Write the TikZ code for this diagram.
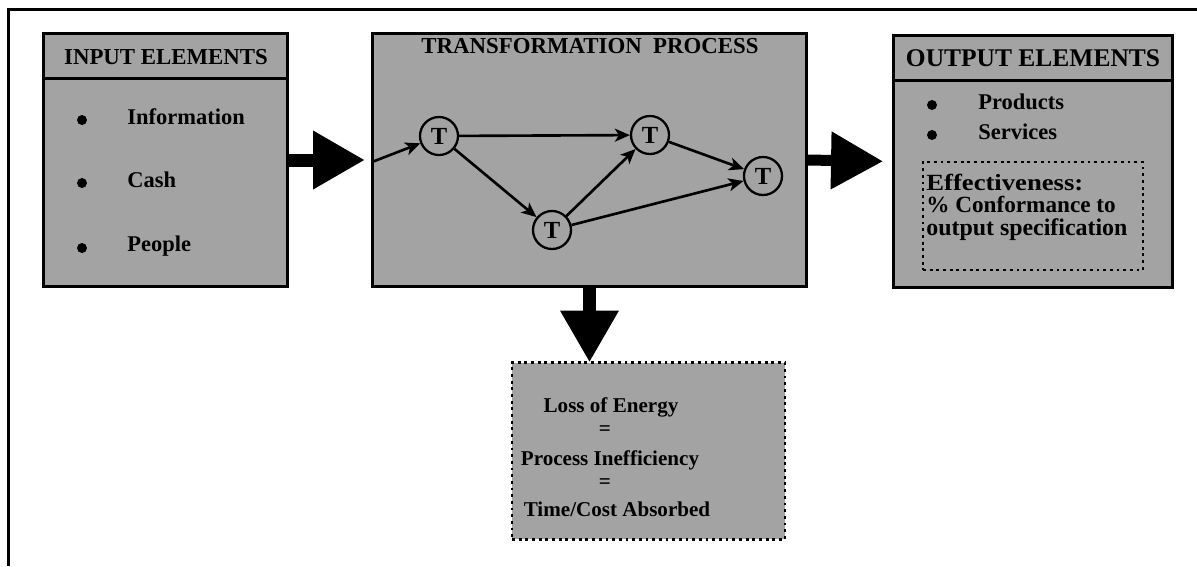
\documentclass[tikz,border=0pt]{standalone}
\usepackage{fontspec}
\setmainfont{Liberation Serif}
\usetikzlibrary{arrows.meta}
\definecolor{panelgray}{gray}{0.64}
\begin{document}
\begin{tikzpicture}[x=0.02cm, y=-0.02cm,
  panel/.style={rectangle, draw=black, line width=1.7pt, fill=panelgray, inner sep=0pt, outer sep=0pt},
  dotbox/.style={rectangle, draw=black, line width=1.6pt, dash pattern=on 1.6pt off 2.2pt, fill=panelgray, inner sep=0pt, outer sep=0pt},
  rule/.style={line width=1.7pt},
  txt/.style={font=\bfseries\fontsize{#1}{#1}\selectfont, inner sep=0pt},
  item/.style={txt=#1, anchor=mid west},
  bullet/.style={circle, fill=black, minimum size=0.2cm, inner sep=0pt},
  tnode/.style={circle, draw=black, line width=1.3pt, fill=panelgray, minimum size=0.76cm, inner sep=0pt, font=\bfseries\fontsize{14}{14}\selectfont},
  flow/.style={line width=1.5pt, -{Stealth[length=0.3cm, width=0.26cm, inset=0.08cm]}},
  bigarrow/.style={line width=#1, -{Triangle[length=1.04cm, width=1.1cm]}}
]
\useasboundingbox (0,0) rectangle (1197,566);

% open outer frame (top and left sides)
\draw[line width=1.7pt] (8.5,566) -- (8.5,9.5) -- (1197,9.5);

% ---------- input elements ----------
\node[panel, minimum width=4.9cm, minimum height=5.08cm] (inbox) at (165.5,160) {};
\coordinate (inrule) at (0,78);
\draw[rule] (inbox.west |- inrule) -- (inbox.east |- inrule);
\node[txt=13] (intitle) at (166,57) {INPUT ELEMENTS};
\node[bullet] (ib1) at (82,120) {};
\node[bullet] (ib2) at (82,183) {};
\node[bullet] (ib3) at (82,248) {};
\node[item=12.8] (info) at (127,120) {Information};
\node[item=12.8] (cash) at (127,183) {Cash};
\node[item=12.8] (people) at (127,247) {People};

% ---------- transformation process ----------
\node[panel, minimum width=8.7cm, minimum height=5.08cm] (tbox) at (589.5,160) {};
\node[txt=13] (ttitle) at (590,46) {TRANSFORMATION\ \ PROCESS};
\node[tnode] (t1) at (439,136) {T};
\node[tnode] (t2) at (552,230) {T};
\node[tnode] (t3) at (650,135) {T};
\node[tnode] (t4) at (763,176) {T};
\draw[flow] (tbox.west) ++(0,2) -- (t1);
\draw[flow] (t1) -- (t3);
\draw[flow] (t1) -- (t2);
\draw[flow] (t2) -- (t3);
\draw[flow] (t2) -- (t4);
\draw[flow] (t3) -- (t4);

% ---------- output elements ----------
\node[panel, minimum width=5.6cm, minimum height=5.06cm] (outbox) at (1033,161.5) {};
\coordinate (outrule) at (0,80);
\draw[rule] (outbox.west |- outrule) -- (outbox.east |- outrule);
\node[txt=14.5] (otitle) at (1033,58) {OUTPUT ELEMENTS};
\node[bullet] (ob1) at (932,105) {};
\node[bullet] (ob2) at (932,135) {};
\node[item=12.8] (prod) at (978,105) {Products};
\node[item=12.8] (serv) at (978,135) {Services};
\node[dotbox, minimum width=4.4cm, minimum height=2.16cm] (eff) at (1033,216) {};
\node[item=13.2] (eff1) at (926,186) {\scalebox{1.15}[1]{Effectiveness:}};
\node[item=13.2] (eff2) at (926,208) {\% Conformance to};
\node[item=13.6] (eff3) at (926,231) {output specification};

% ---------- losses ----------
\node[dotbox, minimum width=5.46cm, minimum height=3.54cm] (loss) at (648.5,451) {};
\node[txt=12] (l1) at (611,407) {Loss of Energy};
\node[txt=12] (l2) at (605,431) {=};
\node[txt=12] (l3) at (610,460) {Process Inefficiency};
\node[txt=12] (l4) at (605,484) {=};
\node[txt=12] (l5) at (617,509) {Time/Cost Absorbed};

% ---------- block arrows ----------
\draw[bigarrow=0.26cm, shorten >=0.14cm] (inbox.east) -- (tbox.west);
\draw[bigarrow=0.22cm, shorten >=0.2cm] (tbox.east) -- (outbox.west);
\draw[bigarrow=0.26cm] (tbox.south) -- (tbox.south |- loss.north);
\end{tikzpicture}
\end{document}
